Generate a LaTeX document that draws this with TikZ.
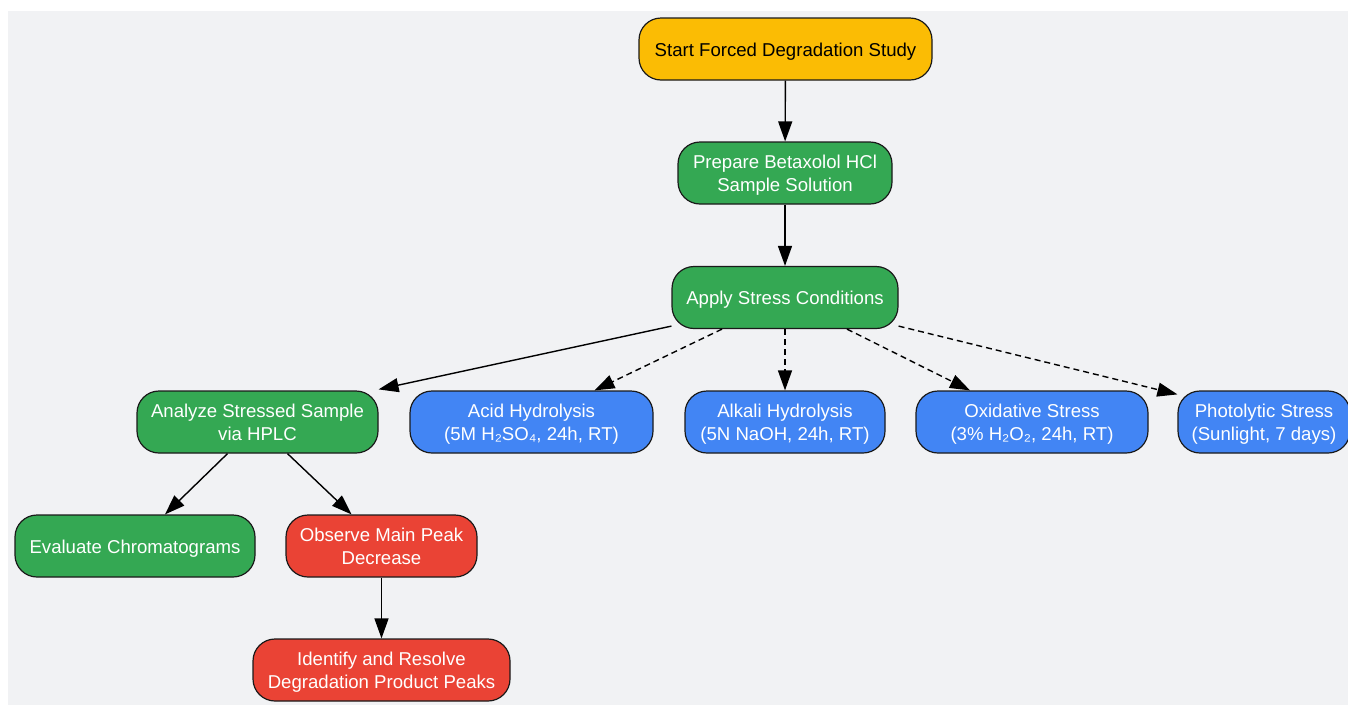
\documentclass[tikz,border=0pt]{standalone}
\usepackage{fontspec}
\setmainfont{Liberation Sans}
\usetikzlibrary{arrows.meta,calc}
\definecolor{bg}{HTML}{F1F2F4}
\definecolor{cyellow}{HTML}{FBBC04}
\definecolor{cgreen}{HTML}{34A853}
\definecolor{cblue}{HTML}{4285F4}
\definecolor{cred}{HTML}{EA4335}
\definecolor{cborder}{HTML}{1A1A1A}
\newcommand\mytopstrut{\rule{0pt}{20pt}}
\newcommand\mybotstrut{\rule[-6pt]{0pt}{6pt}}
\tikzset{
  box/.style={draw=cborder, line width=1.2pt, rounded corners=22pt, minimum height=62pt,
    inner sep=0pt, align=center, font=\fontsize{18.6}{23}\selectfont, text=white,
    execute at begin node=\mytopstrut, execute at end node=\mybotstrut},
  ybox/.style={box, fill=cyellow, text=black},
  gbox/.style={box, fill=cgreen},
  bbox/.style={box, fill=cblue},
  rbox/.style={box, fill=cred},
  conn/.style={line width=1.4pt, -{Triangle[length=20pt,width=14pt]}},
  dconn/.style={conn, dash pattern=on 6pt off 4pt},
}
\begin{document}
\begin{tikzpicture}[x=1pt,y=-1pt]
\useasboundingbox (0,0) rectangle (1348,705);
\fill[bg] (8,11) rectangle (1348,705);
\node[ybox, minimum width=293pt] (start) at (785.5,49) {Start Forced Degradation Study};
\node[gbox, minimum width=214pt] (prep) at (785,173) {\mytopstrut Prepare Betaxolol HCl\\Sample Solution};
\node[gbox, minimum width=226pt] (apply) at (785,297.5) {Apply Stress Conditions};
\node[gbox, minimum width=241pt] (analyze) at (257.5,422) {\mytopstrut Analyze Stressed Sample\\via HPLC};
\node[bbox, minimum width=243pt] (acid) at (531.5,422) {\mytopstrut Acid Hydrolysis\\(5M H₂SO₄, 24h, RT)};
\node[bbox, minimum width=200pt] (alkali) at (785,422) {\mytopstrut Alkali Hydrolysis\\(5N NaOH, 24h, RT)};
\node[bbox, minimum width=232pt] (oxid) at (1032,422) {\mytopstrut Oxidative Stress\\(3\% H₂O₂, 24h, RT)};
\node[bbox, minimum width=172pt] (photo) at (1264,422) {\mytopstrut Photolytic Stress\\(Sunlight, 7 days)};
\node[gbox, minimum width=240pt] (eval) at (135,546) {Evaluate Chromatograms};
\node[rbox, minimum width=191pt] (observe) at (381.5,546) {\mytopstrut Observe Main Peak\\Decrease};
\node[rbox, minimum width=257pt] (ident) at (381.5,670) {\mytopstrut Identify and Resolve\\Degradation Product Peaks};

\draw[conn] (start) -- (prep);
\draw[conn] (prep) -- (apply);
\draw[conn] ($(apply.south west)+(0,-3)$) -- ($(analyze.north east)+(0,-1)$);
\draw[dconn] ($(apply.south)+(-63,0)$) -- ($(acid.north)+(63,0)$);
\draw[dconn] (apply) -- (alkali);
\draw[dconn] ($(apply.south)+(62,0)$) -- ($(oxid.north)+(-62,0)$);
\draw[dconn] ($(apply.south east)+(0,-3)$) -- ($(photo.north west)+(0,4)$);
\draw[conn] ($(analyze.south)+(-30,0)$) -- ($(eval.north)+(30,0)$);
\draw[conn] ($(analyze.south)+(30,0)$) -- ($(observe.north)+(-30,0)$);
\draw[conn] (observe) -- (ident);
\end{tikzpicture}
\end{document}
